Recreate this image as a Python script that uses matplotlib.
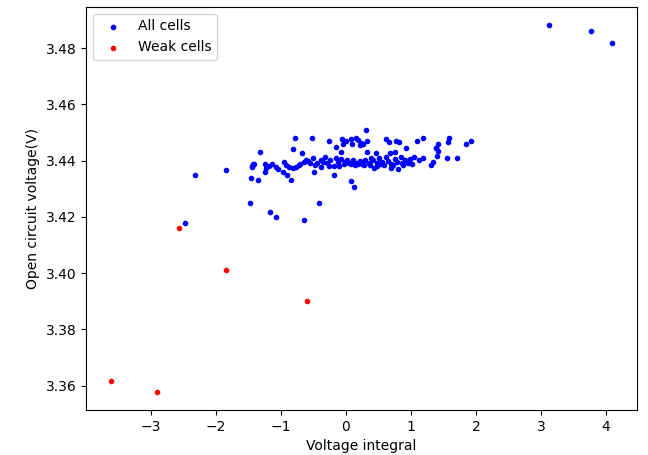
#!/usr/bin/env python3
# -*- coding: utf-8 -*-

"""
Scatter of open circuit voltage against voltage integral for a pack,
with the weak cells picked out in red.
"""
import matplotlib
matplotlib.use('Agg')
import matplotlib.pyplot as plt

# voltage integral / open circuit voltage for every cell
all_x = [
  -0.78, -1.32, -0.81, -0.68, -1.43, -1.45, -1.24, -1.23, -1.18, -1.13,
  -1.08, -1.04, -1.24, -0.95, -0.92, -0.87, -0.82, -0.77, -0.72, -0.64,
  -0.59, -0.97, -0.90, -1.46, -1.35, -0.85,
  0.31, -0.53, -0.26, -0.06, 0.00, 0.08, 0.16, 0.18, 0.23, 0.33,
  -0.15, -0.07, 0.10, 0.21, 0.26, 0.33, -0.49, -0.18, 0.08, 0.12,
  -0.61, -0.55, -0.50, -0.44, -0.38, -0.32, -0.29, -0.24, -0.19, -0.16,
  -0.12, -0.07, -0.02, 0.02, 0.07, 0.11, 0.16, 0.21, 0.25, 0.30,
  0.35, 0.39, -0.26, -0.38, -0.10, -0.05,
  0.62, 0.66, 0.77, 0.81, 1.09, 1.18, 1.39, 0.93, 0.76, 0.67,
  0.46, 1.34, 1.31, 0.80, 0.70,
  0.42, 0.47, 0.51, 0.56, 0.61, 0.65, 0.70, 0.75, 0.79, 0.84,
  0.90, 0.95, 0.99, 1.04, 1.13, 1.19, 0.48, 0.43,
  1.59, 1.57, 1.42, 1.85, 1.93, 1.39, 1.41, 1.40, 1.56, 1.70,
  -2.32, -1.84, -2.48, -1.48, -1.17, -1.08, -0.64, -0.42, -1.45, -1.41,
  -0.70, -0.47, -0.03, 0.14, 0.27, 0.37, 0.58, 0.72, 0.88, 1.01,
  -0.36, 0.04, 0.19, 0.53, 0.86,
  3.12, 3.77, 4.09,
]
all_y = [
  3.4481, 3.4430, 3.4440, 3.4427, 3.4387, 3.4379, 3.4387, 3.4373, 3.4382, 3.4387,
  3.4378, 3.4371, 3.4361, 3.4396, 3.4385, 3.4379, 3.4373, 3.4379, 3.4385, 3.4394,
  3.4399, 3.4359, 3.4349, 3.4340, 3.4330, 3.4330,
  3.4509, 3.4480, 3.4470, 3.4477, 3.4470, 3.4477, 3.4482, 3.4474, 3.4462, 3.4470,
  3.4450, 3.4432, 3.4458, 3.4456, 3.4460, 3.4432, 3.4361, 3.4349, 3.4328, 3.4308,
  3.4402, 3.4392, 3.4410, 3.4392, 3.4402, 3.4413, 3.4392, 3.4402, 3.4381, 3.4410,
  3.4395, 3.4406, 3.4395, 3.4402, 3.4388, 3.4402, 3.4392, 3.4399, 3.4388, 3.4402,
  3.4392, 3.4410, 3.4381, 3.4378, 3.4381, 3.4460,
  3.4477, 3.4467, 3.4470, 3.4467, 3.4470, 3.4480, 3.4446, 3.4446, 3.4432, 3.4426,
  3.4426, 3.4396, 3.4385, 3.4371, 3.4373,
  3.4402, 3.4392, 3.4410, 3.4395, 3.4413, 3.4399, 3.4388, 3.4406, 3.4395, 3.4413,
  3.4402, 3.4392, 3.4406, 3.4413, 3.4402, 3.4410, 3.4381, 3.4374,
  3.4480, 3.4467, 3.4458, 3.4458, 3.4470, 3.4444, 3.4434, 3.4418, 3.4409, 3.4409,
  3.4349, 3.4367, 3.4180, 3.4249, 3.4219, 3.4199, 3.4189, 3.4249, 3.4381, 3.4388,
  3.4388, 3.4385, 3.4388, 3.4385, 3.4384, 3.4386, 3.4384, 3.4386, 3.4384, 3.4388,
  3.4395, 3.4392, 3.4390, 3.4388, 3.4392,
  3.4882, 3.4860, 3.4820,
]

# cells flagged as weak
weak_x = [-3.61, -2.91, -2.57, -1.84, -0.60]
weak_y = [3.3618, 3.3579, 3.4161, 3.4012, 3.3902]


def plot_cells():
  fig, ax = plt.subplots(figsize=(6.48, 4.55), dpi=100)
  fig.subplots_adjust(left=0.133, right=0.983, bottom=0.099, top=0.985)

  ax.scatter(all_x, all_y, s=9, color='b', label='All cells')
  ax.scatter(weak_x, weak_y, s=9, color='r', label='Weak cells')

  ax.set_xlabel('Voltage integral')
  ax.set_ylabel('Open circuit voltage(V)')
  ax.legend(loc='upper left')

  fig.savefig('out.png')


if __name__ == '__main__':
  plot_cells()
